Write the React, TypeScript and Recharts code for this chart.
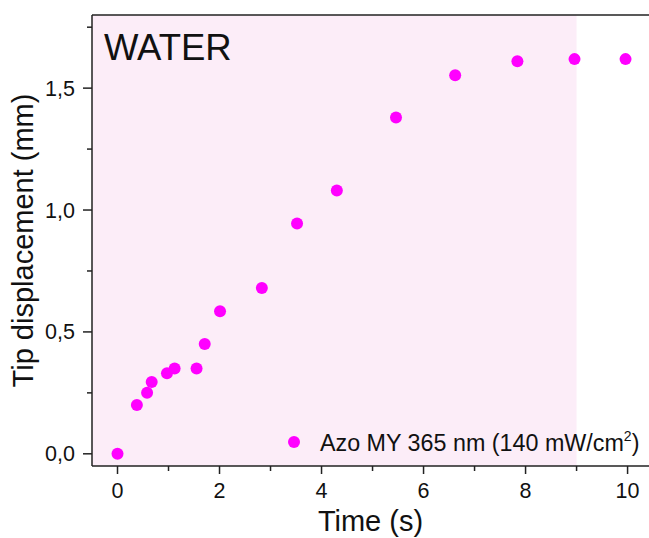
import React from "react"
import {
  ScatterChart,
  Scatter,
  XAxis,
  YAxis,
  ReferenceArea,
  ReferenceLine,
  Legend,
} from "recharts"

// time (s)
const timeValues = [0, 0.38, 0.58, 0.67, 0.97, 1.12, 1.55, 1.71, 2.01, 2.83, 3.52, 4.3, 5.46, 6.62, 7.84, 8.96, 9.96]
// tip displacement (mm)
const displacementValues = [0, 0.2, 0.25, 0.295, 0.33, 0.35, 0.35, 0.45, 0.585, 0.68, 0.945, 1.08, 1.38, 1.553, 1.61, 1.619, 1.619]

const xTicks = [0, 1, 2, 3, 4, 5, 6, 7, 8, 9, 10]
const yTicks = [0, 0.25, 0.5, 0.75, 1, 1.25, 1.5, 1.75]

const seriesName = "Azo MY 365 nm (140 mW/cm²)"
const irradiationEnd = 9

const data = timeValues.map((t, i) => ({ t, d: displacementValues[i] }))

const FONT = "'Liberation Sans', Arial, sans-serif"
const AXIS = "#222"
const MAGENTA = "#ff00ff"

const XTick = (props: any) => {
  const { x, y, payload } = props
  const major = payload.value % 2 === 0
  return (
    <g>
      <line x1={x} x2={x} y1={y} y2={y + (major ? 8 : 5)} stroke={AXIS} strokeWidth={1.5} />
      {major && (
        <text x={x} y={y + 32} textAnchor="middle" fontSize={21.5} fontFamily={FONT} fill="#111">
          {payload.value}
        </text>
      )}
    </g>
  )
}

const YTick = (props: any) => {
  const { x, y, payload } = props
  const v = payload.value
  const major = Math.abs(v * 2 - Math.round(v * 2)) < 1e-6
  return (
    <g>
      <line x1={x - (major ? 9 : 5)} x2={x} y1={y} y2={y} stroke={AXIS} strokeWidth={1.5} />
      {major && (
        <text x={x - 17} y={y + 7.5} textAnchor="end" fontSize={21.5} fontFamily={FONT} fill="#111">
          {v.toFixed(1).replace(".", ",")}
        </text>
      )}
    </g>
  )
}

const Dot = (props: any) => <circle cx={props.cx} cy={props.cy} r={6} fill={MAGENTA} />

const LegendBox = () => {
  const [main, sup] = [seriesName.split("²")[0], seriesName.split("²")[1]]
  return (
    <svg width={360} height={30} style={{ overflow: "visible" }}>
      <circle cx={6} cy={15} r={6} fill={MAGENTA} />
      <text x={32} y={24} fontSize={23.3} fontFamily={FONT} fill="#111">
        {main}
        <tspan dy={-10} fontSize={14}>2</tspan>
        <tspan dy={10}>{sup}</tspan>
      </text>
    </svg>
  )
}

export default function App() {
  return (
    <div style={{ position: "absolute", left: 0, top: 0 }}>
      <ScatterChart width={649} height={538} margin={{ top: 15, right: 0, bottom: 0, left: 0 }}>
        <ReferenceArea
          x1={-0.5}
          x2={irradiationEnd}
          y1={-0.05}
          y2={1.8}
          fill="#fcedf8"
          fillOpacity={1}
          stroke="none"
          ifOverflow="hidden"
          label={(p: any) => (
            <text x={p.viewBox.x + 12} y={p.viewBox.y + 45} fontSize={36.5} fontFamily={FONT} fill="#111">
              WATER
            </text>
          )}
        />
        <XAxis
          type="number"
          dataKey="t"
          domain={[-0.5, 10.42]}
          ticks={xTicks}
          allowDataOverflow
          height={72}
          tickSize={0}
          tickMargin={0}
          tickLine={false}
          tick={<XTick />}
          axisLine={{ stroke: AXIS, strokeWidth: 1.5 }}
          label={(p: any) => (
            <text
              x={p.viewBox.x + p.viewBox.width / 2}
              y={p.viewBox.y + 65}
              textAnchor="middle"
              fontSize={29}
              fontFamily={FONT}
              fill="#111"
            >
              Time (s)
            </text>
          )}
        />
        <YAxis
          type="number"
          dataKey="d"
          domain={[-0.05, 1.8]}
          ticks={yTicks}
          allowDataOverflow
          width={92}
          tickSize={0}
          tickMargin={0}
          tickLine={false}
          tick={<YTick />}
          axisLine={{ stroke: AXIS, strokeWidth: 1.5 }}
          label={(p: any) => (
            <text
              transform={`translate(33, ${p.viewBox.y + p.viewBox.height / 2}) rotate(-90)`}
              textAnchor="middle"
              fontSize={29}
              fontFamily={FONT}
              fill="#111"
            >
              Tip displacement (mm)
            </text>
          )}
        />
        <ReferenceLine y={1.8} stroke={AXIS} strokeWidth={1.5} ifOverflow="extendDomain" />
        <Legend
          layout="vertical"
          align="center"
          verticalAlign="middle"
          content={<LegendBox />}
          wrapperStyle={{ left: 288, top: 427, width: 360, height: 30 }}
        />
        <Scatter name={seriesName} data={data} fill={MAGENTA} shape={<Dot />} isAnimationActive={false} />
      </ScatterChart>
    </div>
  )
}
